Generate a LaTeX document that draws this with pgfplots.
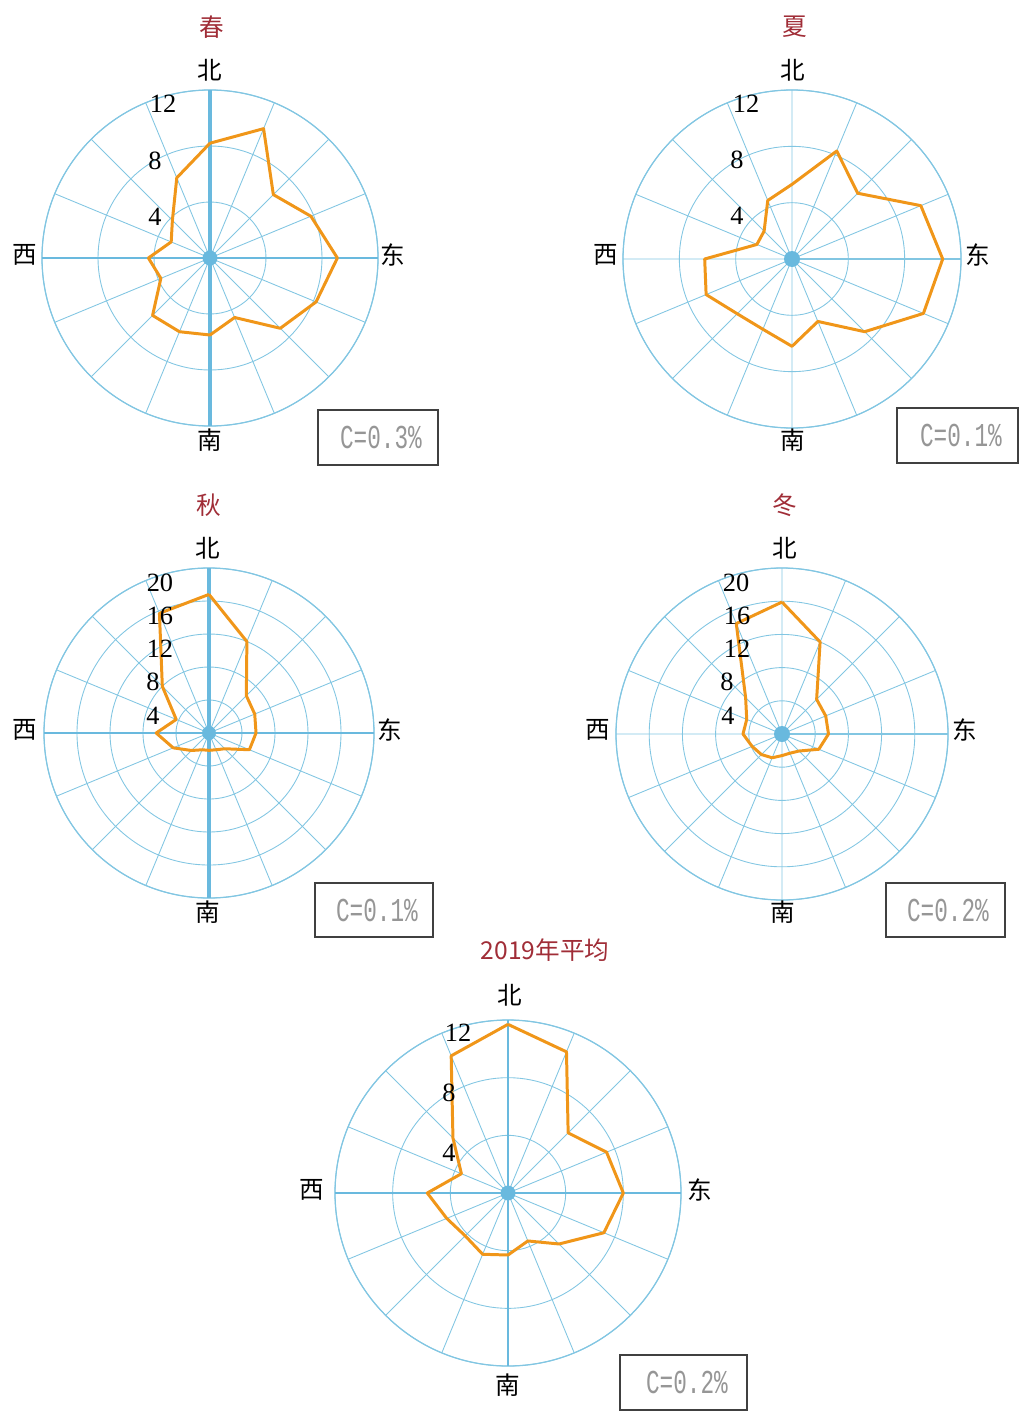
\documentclass[border=0pt]{standalone}
\usepackage{pgfplots}
\pgfplotsset{compat=1.18}
\usepgfplotslibrary{polar}
\usepackage{pgfplotstable}
\usepackage{fontspec}
\setmainfont{Liberation Serif}
\newfontfamily\cjk{Noto Sans CJK SC}
\newfontfamily\mono{Liberation Mono}

\definecolor{gridblue}{RGB}{130,198,226}
\definecolor{axisblue}{RGB}{105,185,222}
\definecolor{roseorange}{RGB}{240,150,25}
\definecolor{titlered}{RGB}{160,45,55}
\definecolor{boxgray}{RGB}{150,150,150}

% wind frequency (%) by direction, angle in math convention (N = 90)
\pgfplotstableread{
a v
90 8.2
67.5 10.0
45 6.4
22.5 7.8
0 9.1
337.5 8.2
315 7.1
292.5 4.6
270 5.5
247.5 5.7
225 5.8
202.5 3.8
180 4.4
157.5 3.0
135 3.8
112.5 6.2
90 8.2
}\spring

\pgfplotstableread{
a v
90 5.3
67.5 8.3
45 6.6
22.5 9.9
0 10.7
337.5 10.1
315 7.3
292.5 4.8
270 6.2
247.5 5.4
225 5.5
202.5 6.6
180 6.2
157.5 2.7
135 2.8
112.5 4.5
90 5.3
}\summer

\pgfplotstableread{
a v
90 16.8
67.5 12.0
45 6.4
22.5 6.0
0 5.7
337.5 5.3
315 2.7
292.5 2.2
270 2.1
247.5 2.2
225 3.0
202.5 4.7
180 6.4
157.5 4.3
135 8.0
112.5 15.7
90 16.8
}\autumn

\pgfplotstableread{
a v
90 15.9
67.5 12.0
45 5.9
22.5 5.7
0 5.6
337.5 4.8
315 2.9
292.5 2.5
270 2.6
247.5 3.1
225 3.5
202.5 3.9
180 4.7
157.5 4.6
135 6.2
112.5 14.4
90 15.9
}\winter

\pgfplotstableread{
a v
90 11.7
67.5 10.6
45 5.9
22.5 7.4
0 8.0
337.5 7.2
315 5.0
292.5 3.6
270 4.3
247.5 4.6
225 4.2
202.5 4.6
180 5.6
157.5 3.5
135 5.4
112.5 10.3
90 11.7
}\annual

\pgfplotsset{
  rose/.style={
    scale only axis, anchor=center,
    xmin=0, xmax=360, ymin=0,
    xtick={0,22.5,...,337.5}, xticklabels={}, yticklabels={},
    grid=major, major grid style={gridblue, line width=0.5pt},
    axis line style={gridblue, line width=0.7pt},
    tick style={draw=none},
  },
  roseline/.style={roseorange, line width=1.7pt, line join=round, no marks},
}

\begin{document}
\begin{tikzpicture}
\path[use as bounding box] (0,0) rectangle (203.8mm,-282.4mm);

% spring
\begin{polaraxis}[rose, at={(42mm,-51.6mm)}, width=67.2mm, height=67.2mm,
  ymax=12, ytick={4,8,12}]
  \draw[axisblue, line width=1.8pt] (axis cs:90,12) -- (axis cs:270,12);
  \draw[axisblue, line width=0.9pt] (axis cs:0,12) -- (axis cs:180,12);
  \addplot[roseline] table[x=a, y=v] {\spring};
  \fill[axisblue] (axis cs:0,0) circle (1.5mm);
\end{polaraxis}

% summer
\begin{polaraxis}[rose, at={(158.4mm,-51.8mm)}, width=67.6mm, height=67.6mm,
  ymax=12, ytick={4,8,12}]
  \addplot[roseline] table[x=a, y=v] {\summer};
  \fill[axisblue] (axis cs:0,0) circle (1.6mm);
\end{polaraxis}

% autumn
\begin{polaraxis}[rose, at={(41.8mm,-146.6mm)}, width=66mm, height=66mm,
  ymax=20, ytick={4,8,12,16,20}]
  \draw[axisblue, line width=1.8pt] (axis cs:90,20) -- (axis cs:270,20);
  \draw[axisblue, line width=0.9pt] (axis cs:0,20) -- (axis cs:180,20);
  \addplot[roseline] table[x=a, y=v] {\autumn};
  \fill[axisblue] (axis cs:0,0) circle (1.4mm);
\end{polaraxis}

% winter
\begin{polaraxis}[rose, at={(156.4mm,-146.8mm)}, width=66.4mm, height=66.4mm,
  ymax=20, ytick={4,8,12,16,20}]
  \addplot[roseline] table[x=a, y=v] {\winter};
  \fill[axisblue] (axis cs:0,0) circle (1.6mm);
\end{polaraxis}

% annual mean
\begin{polaraxis}[rose, at={(101.6mm,-238.6mm)}, width=69.2mm, height=69.2mm,
  ymax=12, ytick={4,8,12}]
  \draw[axisblue, line width=0.8pt] (axis cs:90,12) -- (axis cs:270,12);
  \draw[axisblue, line width=0.8pt] (axis cs:0,12) -- (axis cs:180,12);
  \addplot[roseline] table[x=a, y=v] {\annual};
  \fill[axisblue] (axis cs:0,0) circle (1.5mm);
\end{polaraxis}

\begin{scope}[x=0.2mm, y=-0.2mm]
  % titles
  \begin{scope}[every node/.style={font=\cjk\fontsize{14pt}{16pt}\selectfont, text=titlered}]
    \node at (212,27) {春};
    \node at (795,27) {夏};
    \node at (209,505) {秋};
    \node at (785,505) {冬};
    \node at (545,950) {2019年平均};
  \end{scope}
  % compass labels
  \begin{scope}[every node/.style={font=\cjk\fontsize{14pt}{16pt}\selectfont}]
    \node at (210,70) {北}; \node at (25,255) {西}; \node at (393,255) {东}; \node at (210,440) {南};
    \node at (793,70) {北}; \node at (606,255) {西}; \node at (978,255) {东}; \node at (793,440) {南};
    \node at (208,548) {北}; \node at (25,730) {西}; \node at (390,730) {东}; \node at (208,912) {南};
    \node at (785,548) {北}; \node at (598,730) {西}; \node at (965,730) {东}; \node at (783,912) {南};
    \node at (510,995) {北}; \node at (312,1190) {西}; \node at (700,1190) {东}; \node at (508,1385) {南};
  \end{scope}
  % ring labels
  \begin{scope}[every node/.style={font=\fontsize{15pt}{17pt}\selectfont, inner sep=0pt}]
    \node at (163,104) {12}; \node at (155,161) {8}; \node at (155,217) {4};
    \node at (746,104) {12}; \node at (737,160) {8}; \node at (737,216) {4};
    \node at (160,583) {20}; \node at (160,616) {16}; \node at (160,649) {12}; \node at (153,682) {8}; \node at (153,716) {4};
    \node at (736,583) {20}; \node at (737,616) {16}; \node at (737,649) {12}; \node at (727,682) {8}; \node at (728,716) {4};
    \node at (458,1033) {12}; \node at (449,1093) {8}; \node at (449,1153) {4};
  \end{scope}
  % calm boxes
  \begin{scope}[every node/.style={font=\mono\fontsize{19pt}{21pt}\selectfont, text=boxgray, xscale=0.68}]
    \draw[black!75, line width=0.8pt] (318,410) rectangle (438,465);
    \node at (381,438) {C=0.3\%};
    \draw[black!75, line width=0.8pt] (897,408) rectangle (1018,463);
    \node at (961,436) {C=0.1\%};
    \draw[black!75, line width=0.8pt] (315,883) rectangle (433,937);
    \node at (377,911) {C=0.1\%};
    \draw[black!75, line width=0.8pt] (886,883) rectangle (1005,937);
    \node at (948,911) {C=0.2\%};
    \draw[black!75, line width=0.8pt] (620,1355) rectangle (747,1410);
    \node at (687,1383) {C=0.2\%};
  \end{scope}
\end{scope}
\end{tikzpicture}
\end{document}
